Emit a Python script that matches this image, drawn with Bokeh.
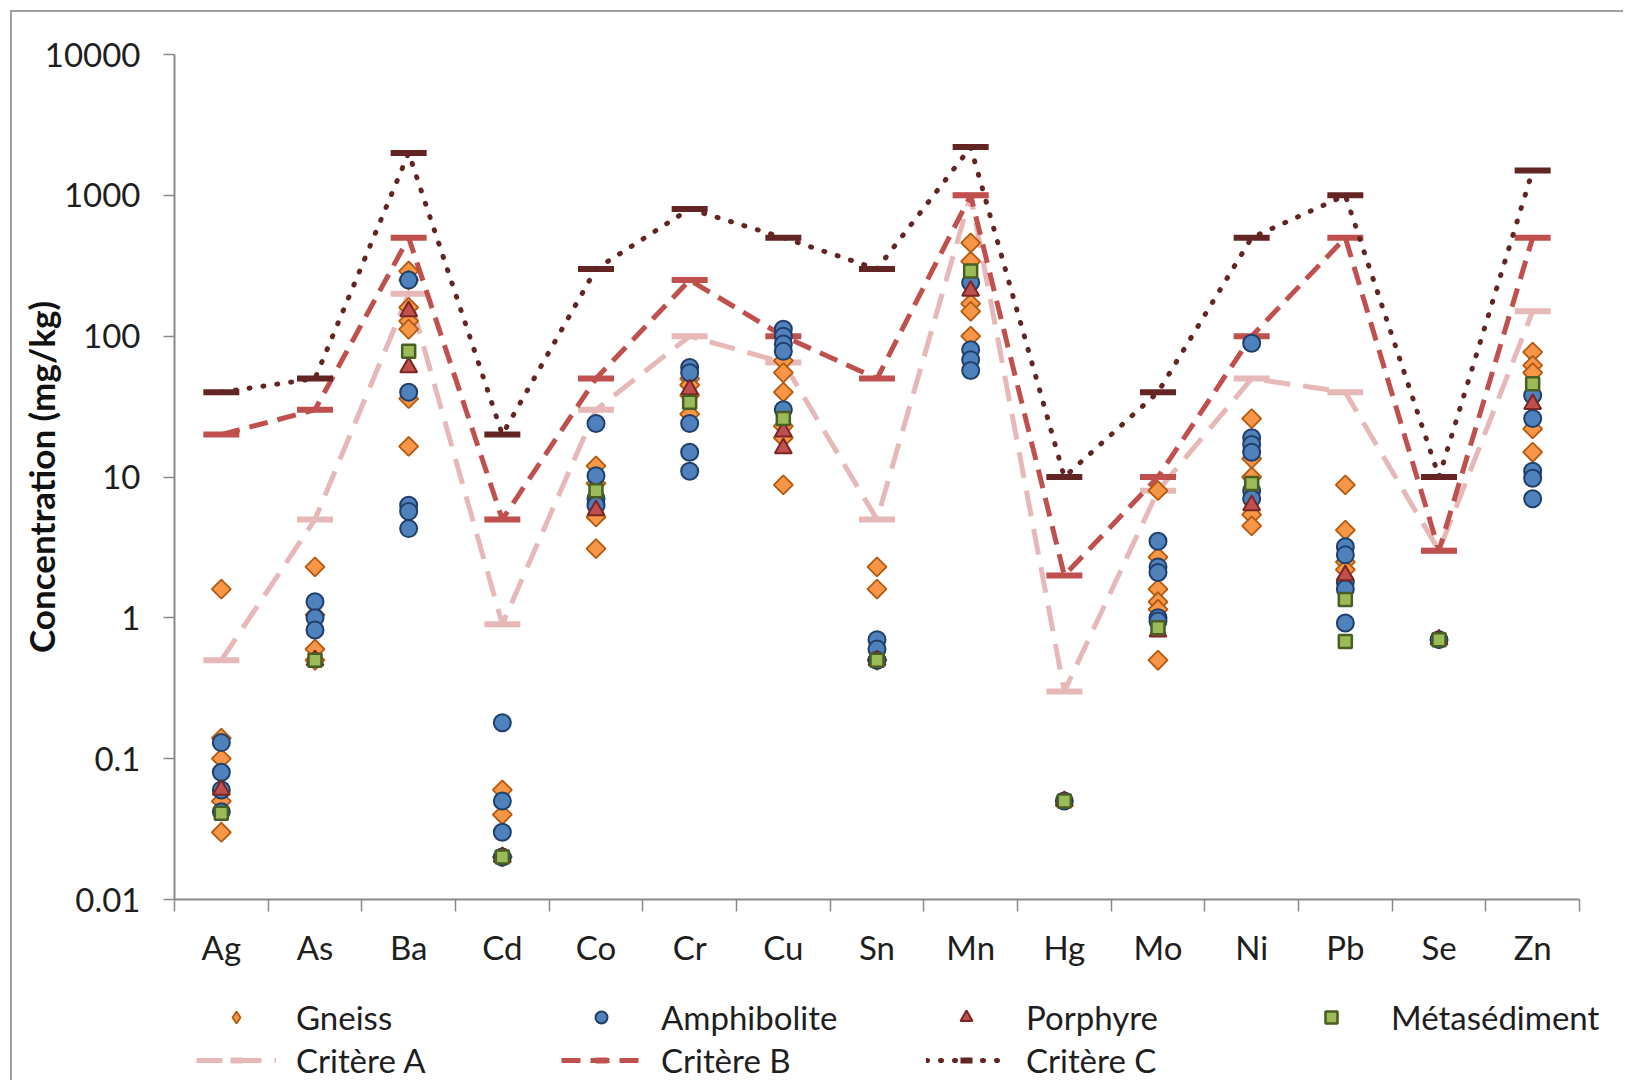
import math

from bokeh.layouts import column
from bokeh.plotting import figure
from bokeh.models import ColumnDataSource, FixedTicker, Legend, LegendItem, Range1d
from bokeh.embed import file_html
from bokeh.resources import INLINE

# ---------------------------------------------------------------- data
elements = ["Ag", "As", "Ba", "Cd", "Co", "Cr", "Cu", "Sn",
            "Mn", "Hg", "Mo", "Ni", "Pb", "Se", "Zn"]

# soil quality criteria (mg/kg)
crit_a = [0.5, 5, 200, 0.9, 30, 100, 65, 5, 1000, 0.3, 8, 50, 40, 3, 150]
crit_b = [20, 30, 500, 5, 50, 250, 100, 50, 1000, 2, 10, 100, 500, 3, 500]
crit_c = [40, 50, 2000, 20, 300, 800, 500, 300, 2200, 10, 40, 500, 1000, 10, 1500]

# measured concentrations (mg/kg) by rock type
gneiss = {
    "Ag": [1.6, 0.14, 0.10, 0.05, 0.03],
    "As": [2.3, 1.05, 0.6, 0.5],
    "Ba": [290, 250, 160, 128, 112, 36, 16.5],
    "Cd": [0.06, 0.04, 0.02],
    "Co": [12, 9, 5.2, 3.1],
    "Cr": [50, 45, 38, 28],
    "Cu": [67, 55, 40, 23, 19, 8.8],
    "Sn": [2.3, 1.6, 0.5],
    "Mn": [460, 340, 170, 150, 100],
    "Mo": [8, 2.7, 1.6, 1.3, 1.15, 0.5],
    "Ni": [26, 13.5, 10, 5.4, 4.5],
    "Pb": [8.8, 4.2, 2.5, 2.2],
    "Zn": [77, 62, 55, 22, 15],
}
amphibolite = {
    "Ag": [0.13, 0.08, 0.06, 0.042],
    "As": [1.3, 1.0, 0.82],
    "Ba": [250, 40, 6.3, 5.7, 4.3],
    "Cd": [0.18, 0.05, 0.03, 0.02],
    "Co": [24, 10.2, 7.0, 6.3],
    "Cr": [60, 55, 24, 15, 11],
    "Cu": [112, 100, 88, 78, 30],
    "Sn": [0.7, 0.6, 0.5],
    "Mn": [240, 80, 68, 57],
    "Hg": [0.05],
    "Mo": [3.5, 2.3, 2.1, 1.0, 0.95],
    "Ni": [89, 19, 17, 15, 8, 7],
    "Pb": [3.2, 2.8, 1.8, 1.6, 0.92],
    "Se": [0.7],
    "Zn": [38, 26, 11, 9.8, 7],
}
porphyre = {
    "Ag": [0.06], "As": [0.5], "Ba": [150, 60], "Cd": [0.02], "Co": [5.8],
    "Cr": [42], "Cu": [21, 16], "Sn": [0.5], "Mn": [210], "Hg": [0.05],
    "Mo": [0.8], "Ni": [6.3], "Pb": [2.0], "Se": [0.7], "Zn": [33],
}
metasediment = {
    "Ag": [0.041], "As": [0.5], "Ba": [78], "Cd": [0.02], "Co": [8.0],
    "Cr": [34], "Cu": [26], "Sn": [0.5], "Mn": [290], "Hg": [0.05],
    "Mo": [0.85], "Ni": [9], "Pb": [1.35, 0.68], "Se": [0.7], "Zn": [46],
}

y_ticks = [0.01, 0.1, 1, 10, 100, 1000, 10000]
y_tick_labels = ["0.01", "0.1", "1", "10", "100", "1000", "10000"]

# ---------------------------------------------------------------- styles
FONT = "Lato"
TEXT = "#1e1e1e"
AXIS = "#8a8a8a"
EDGE = "2px solid #a0a0a0"

gneiss_fill = dict(fill_color="#F79646", line_color="#B25A10", line_width=1.8)
sample_styles = [
    ("Gneiss", gneiss, dict(marker="square", angle=math.pi / 4, size=13.5, **gneiss_fill)),
    ("Amphibolite", amphibolite, dict(marker="circle", size=17, fill_color="#4F81BD",
                                      line_color="#1F3F6A", line_width=2)),
    ("Porphyre", porphyre, dict(marker="triangle", size=17, fill_color="#C0504D",
                                line_color="#7A2624", line_width=2)),
    ("Métasédiment", metasediment, dict(marker="square", size=13, fill_color="#9BBB59",
                                         line_color="#4A5E24", line_width=2.5)),
]
# legend swatches (the legend draws markers unrotated)
swatch_styles = [dict(marker="diamond", size=13.5, **gneiss_fill)] + \
    [style for _, _, style in sample_styles[1:]]

criteria_styles = [
    ("Critère A", crit_a, "#E6B9B8", "26 13", "butt"),
    ("Critère B", crit_b, "#C0504D", "19 10", "butt"),
    ("Critère C", crit_c, "#632523", "1 13", "round"),
]

n_el = len(elements)
x_of = {e: i + 0.5 for i, e in enumerate(elements)}
centres = [x_of[e] for e in elements]


def points(series):
    xs, ys = [], []
    for el, vals in series.items():
        for v in vals:
            xs.append(x_of[el])
            ys.append(v)
    return ColumnDataSource(dict(x=xs, y=ys))


# ---------------------------------------------------------------- chart
# the frame runs to the right edge so the legend strip below can use it;
# the x axis itself stops after the last element
AXIS_PX = 1405
FRAME_PX = 1451
p = figure(
    width=1613, height=975,
    y_axis_type="log",
    x_range=Range1d(0, n_el * FRAME_PX / AXIS_PX),
    y_range=Range1d(0.01, 10000),
    output_backend="svg", toolbar_location=None,
    min_border_left=162, min_border_right=0,
    min_border_top=42, min_border_bottom=88,
)
p.margin = (10, 0, 0, 10)
p.styles = {"border-left": EDGE, "border-top": EDGE}
p.outline_line_color = None
p.xgrid.visible = False
p.ygrid.visible = False

# x axis: labels at the element centres, ticks between elements
xa = p.xaxis[0]
xa.bounds = (0, n_el)
xa.ticker = FixedTicker(ticks=centres, minor_ticks=list(range(n_el + 1)))
xa.major_label_overrides = {x_of[e]: e for e in elements}
xa.major_tick_out = 0
xa.major_tick_in = 0
xa.minor_tick_out = 12
xa.minor_tick_in = 0
xa.minor_tick_line_color = AXIS
xa.minor_tick_line_width = 1.5
xa.axis_line_color = AXIS
xa.axis_line_width = 2
xa.major_label_standoff = 15
xa.major_label_text_font = FONT
xa.major_label_text_font_size = "33px"
xa.major_label_text_color = TEXT

# y axis: decades, plain numbers
ya = p.yaxis[0]
ya.ticker = FixedTicker(ticks=y_ticks)
ya.major_label_overrides = dict(zip(y_ticks, y_tick_labels))
ya.major_tick_out = 11
ya.major_tick_in = 0
ya.major_tick_line_color = AXIS
ya.major_tick_line_width = 1.5
ya.minor_tick_line_color = None
ya.axis_line_color = AXIS
ya.axis_line_width = 2
ya.major_label_standoff = 23
ya.major_label_text_font = FONT
ya.major_label_text_font_size = "33px"
ya.major_label_text_color = TEXT
ya.axis_label = "Concentration (mg/kg)"
ya.axis_label_text_font = FONT
ya.axis_label_text_font_size = "35px"
ya.axis_label_text_font_style = "bold"
ya.axis_label_text_color = "#111111"
ya.axis_label_standoff = -20

# criteria: connecting line plus a bar at each element
for _, vals, colour, dash, cap in criteria_styles:
    p.line(centres, vals, line_color=colour, line_width=5, line_dash=dash, line_cap=cap)
    p.scatter(centres, vals, marker="dash", size=36, line_color=colour, line_width=6)

# samples, later rock types drawn on top
for _, series, style in sample_styles:
    p.scatter("x", "y", source=points(series), **style)

# ---------------------------------------------------------------- legend strip
lf = figure(
    width=1613, height=95,
    x_range=Range1d(0, 1), y_range=Range1d(0, 1),
    output_backend="svg", toolbar_location=None,
    min_border_left=0, min_border_right=0, min_border_top=0, min_border_bottom=0,
)
lf.margin = (0, 0, 0, 10)
lf.styles = {"border-left": EDGE}
lf.axis.visible = False
lf.xgrid.visible = False
lf.ygrid.visible = False
lf.outline_line_color = None

# legend samples carry a single undefined point, so nothing is plotted
nan = float("nan")
sample_items = []
for (name, _, _), style in zip(sample_styles, swatch_styles):
    r = lf.scatter(x=[nan], y=[nan], **style)
    sample_items.append(LegendItem(label=name, renderers=[r]))

criteria_items = []
for name, _, colour, dash, cap in criteria_styles:
    ln = lf.line(x=[nan, nan], y=[nan, nan], line_color=colour, line_width=5,
                 line_dash=dash, line_cap=cap)
    mk = lf.scatter(x=[nan], y=[nan], marker="dash", size=36,
                    line_color=colour, line_width=6)
    criteria_items.append(LegendItem(label=name, renderers=[ln, mk]))

legend_style = dict(
    orientation="horizontal",
    label_text_font=FONT, label_text_font_size="33px",
    label_text_color=TEXT,
    glyph_width=80, glyph_height=30, label_height=40,
    label_standoff=20, label_width=265, spacing=0,
    padding=0, margin=0,
    border_line_color=None, background_fill_alpha=0,
)
lf.add_layout(Legend(items=sample_items, location=(22, 43), **legend_style))
lf.add_layout(Legend(items=criteria_items, location=(22, 0), **legend_style))

open("out.html", "w").write(file_html(column(p, lf, spacing=0), INLINE))
